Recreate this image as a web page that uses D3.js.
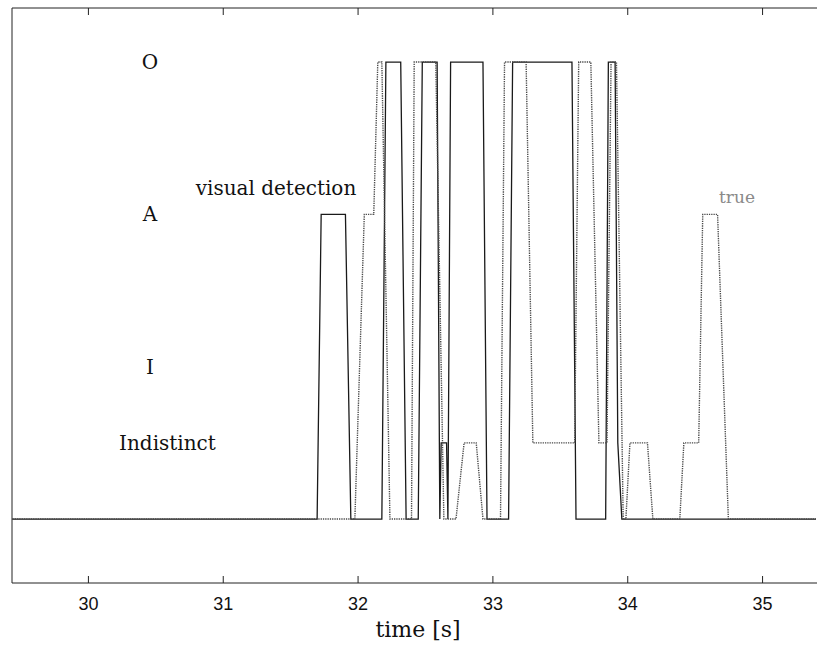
<!DOCTYPE html>
<html>
<head>
<meta charset="utf-8">
<script src="https://cdn.jsdelivr.net/npm/d3@7"></script>
<style>
  body { margin: 0; background: #fff; }
  svg { display: block; }
</style>
</head>
<body>
<script>
// visual detection (solid) : time [s] and level
var visTime  = [29.44, 31.70, 31.73, 31.91, 31.95, 32.18, 32.21, 32.32, 32.36, 32.45, 32.48, 32.59, 32.61, 32.62, 32.66, 32.67, 32.69, 32.93, 32.96, 33.12, 33.15, 33.59, 33.62, 33.84, 33.86, 33.91, 33.93, 33.96, 35.40];
var visLevel = [0,     0,     4,     4,     0,     0,     6,     6,     0,     0,     6,     6,     0,     1,     1,     0,     6,     6,     0,     0,     6,     6,     0,     0,     6,     6,     1,     0,     0];

// true (dotted)
var trueTime  = [29.44, 31.98, 32.05, 32.12, 32.15, 32.18, 32.24, 32.40, 32.42, 32.58, 32.64, 32.73, 32.79, 32.88, 32.93, 33.06, 33.09, 33.25, 33.30, 33.61, 33.64, 33.73, 33.79, 33.85, 33.88, 33.92, 33.97, 33.99, 34.02, 34.15, 34.19, 34.39, 34.42, 34.53, 34.56, 34.67, 34.75, 35.40];
var trueLevel = [0,     0,     4,     4,     6,     6,     0,     0,     6,     6,     0,     0,     1,     1,     0,     0,     6,     6,     1,     1,     6,     6,     1,     1,     6,     6,     0,     0,     1,     1,     0,     0,     1,     1,     4,     4,     0,     0];

var levelNames  = ["Indistinct", "I", "A", "O"];
var levelValues = [1, 2, 4, 6];
var xTicks = [30, 31, 32, 33, 34, 35];

(function(){
var W = 817, H = 647;
var mLeft = 12, mRight = 816, mTop = 8, mBottom = 583;

var svg = d3.select("body").append("svg")
    .attr("width", W)
    .attr("height", H);

var x = d3.scaleLinear().domain([29.437, 35.4]).range([mLeft, mRight]);
var y = d3.scaleLinear().domain([-0.84, 6.71]).range([mBottom, mTop]);

function pts(t, l){
	return t.map(function(d, i){ return [d, l[i]]; });
}
var line = d3.line()
    .x(function(d){ return x(d[0]); })
    .y(function(d){ return y(d[1]); });

// traces
svg.append("path")
    .attr("d", line(pts(visTime, visLevel)))
    .attr("fill", "none")
    .attr("stroke", "#1a1a1a")
    .attr("stroke-width", 1.3);

svg.append("path")
    .attr("d", line(pts(trueTime, trueLevel)))
    .attr("fill", "none")
    .attr("stroke", "#4a4a4a")
    .attr("stroke-width", 1.4)
    .attr("stroke-dasharray", "1.3,1");

// frame
svg.append("path")
    .attr("d", "M" + (W + 5) + "," + mTop + "H" + mLeft + "V" + mBottom + "H" + (W + 5))
    .attr("fill", "none")
    .attr("stroke", "#222")
    .attr("stroke-width", 1);

// bottom axis ticks (inward) and labels
var xAxis = d3.axisBottom(x).tickValues(xTicks).tickSizeInner(-7).tickSizeOuter(0)
    .tickPadding(14).tickFormat(d3.format("d"));
var gx = svg.append("g")
    .attr("transform", "translate(0," + mBottom + ")")
    .call(xAxis);
gx.select(".domain").remove();
gx.selectAll(".tick line").attr("stroke", "#222");
gx.selectAll("text")
    .attr("fill", "#111")
    .style("font-family", "'Liberation Sans', Arial, sans-serif")
    .style("font-size", "18px");

// top ticks
var gt = svg.append("g")
    .attr("transform", "translate(0," + mTop + ")")
    .call(d3.axisTop(x).tickValues(xTicks).tickSizeInner(-7).tickSizeOuter(0).tickFormat(""));
gt.select(".domain").remove();
gt.selectAll(".tick line").attr("stroke", "#222");

// level names inside the plot
var serif = "'DejaVu Serif', serif";
svg.selectAll(".lvl")
    .data(levelNames)
    .enter()
    .append("text")
    .attr("class", "lvl")
    .attr("x", function(d){ return d === "Indistinct" ? x(30.59) : x(30.46); })
    .attr("y", function(d, i){ return y(levelValues[i]); })
    .attr("dy", "0.35em")
    .attr("text-anchor", "middle")
    .style("font-family", serif)
    .style("font-size", "20px")
    .attr("fill", "#111")
    .text(function(d){ return d; });

svg.append("text")
    .attr("x", 276)
    .attr("y", 188)
    .attr("dy", "0.35em")
    .attr("text-anchor", "middle")
    .style("font-family", serif)
    .style("font-size", "20px")
    .attr("fill", "#111")
    .text("visual detection");

svg.append("text")
    .attr("x", 737)
    .attr("y", 197)
    .attr("dy", "0.35em")
    .attr("text-anchor", "middle")
    .style("font-family", serif)
    .style("font-size", "17px")
    .attr("fill", "#8a8a8a")
    .text("true");

// x label
svg.append("text")
    .attr("x", 418)
    .attr("y", 637)
    .attr("text-anchor", "middle")
    .style("font-family", serif)
    .style("font-size", "22px")
    .attr("fill", "#111")
    .text("time [s]");
})();
</script>
</body>
</html>
